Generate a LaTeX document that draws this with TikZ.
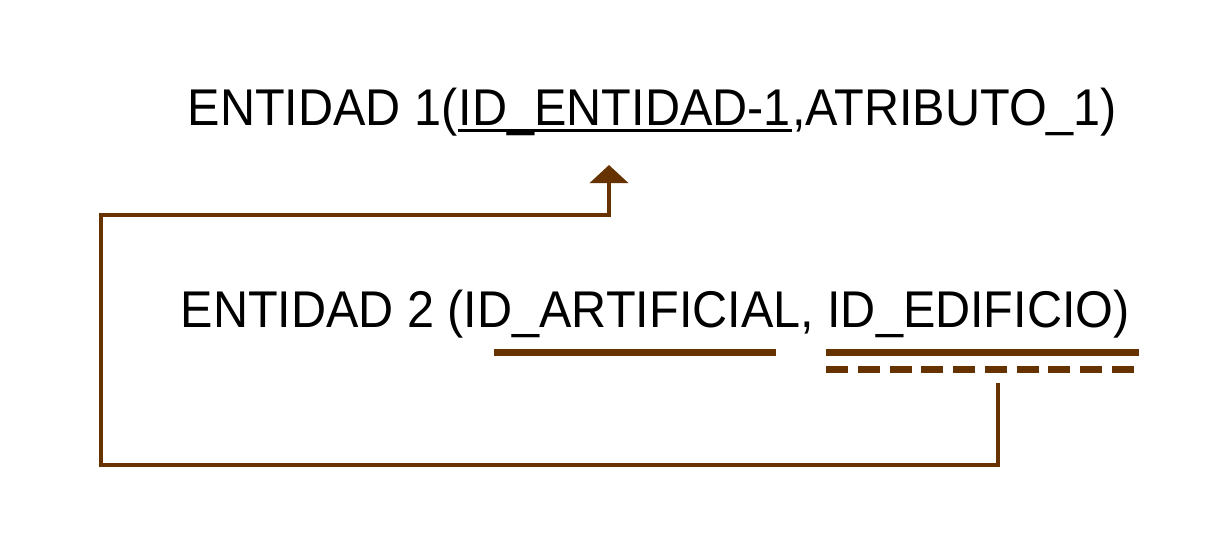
\documentclass[tikz,border=0pt]{standalone}
\usepackage{fontspec}
\setmainfont{Liberation Sans}[FakeStretch=0.94]
\usepackage{xcolor}
\usetikzlibrary{arrows.meta, positioning}
\definecolor{cafe}{HTML}{663300}

\begin{document}
\begin{tikzpicture}[
		txt/.style = {inner sep=0pt, font=\fontsize{14.7}{17}\selectfont},
		clave/.style = {cafe, line width=0.07cm},
		enlace/.style = {cafe, line width=0.035cm, -{Triangle[width=0.38cm, length=0.18cm]}}
	]
	\useasboundingbox (0, 0) rectangle (12.16, 5.53);

	\node[txt, anchor=base west] (ent1) at (1.87, 4.28) {ENTIDAD 1(};
	\node[txt, anchor=base west] (id1) at (ent1.base east) {ID\_ENTIDAD-1};
	\node[txt, anchor=base west] (atr1) at (id1.base east) {,ATRIBUTO\_1)};
	\draw[line width=0.03cm] ([yshift=-0.05cm]id1.base west) -- ([yshift=-0.05cm]id1.base east);

	\node[txt, anchor=base west] (ent2) at (1.80, 2.26) {ENTIDAD 2 (ID\_ARTIFICIAL, ID\_EDIFICIO)};

	% claves de la entidad 2
	\draw[clave] (4.94, 2.01) -- (7.76, 2.01);
	\draw[clave] (8.26, 2.01) -- (11.39, 2.01);
	\draw[clave, dash pattern=on 0.22cm off 0.0975cm] (8.26, 1.84) -- (11.34, 1.84);

	\coordinate (fk) at (9.98, 1.70);
	\coordinate (pk) at (6.09, 3.88);
	\draw[enlace] (fk) |- (1.01, 0.88) |- (6.09, 3.38) -- (pk);
\end{tikzpicture}
\end{document}
